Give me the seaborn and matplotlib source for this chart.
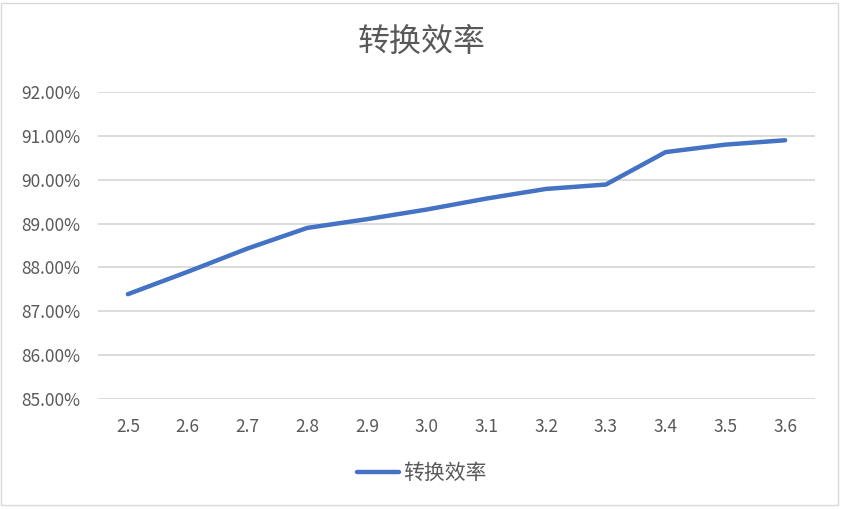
import numpy as np
import pandas as pd
import matplotlib
matplotlib.use("Agg")
import matplotlib.pyplot as plt
from matplotlib.ticker import PercentFormatter
from matplotlib.patches import Rectangle
import seaborn as sns

categories = ["2.5", "2.6", "2.7", "2.8", "2.9", "3.0", "3.1", "3.2", "3.3", "3.4", "3.5", "3.6"]
efficiency = [87.39, 87.90, 88.43, 88.90, 89.10, 89.32, 89.57, 89.79, 89.89, 90.63, 90.80, 90.90]
series_name = "转换效率"
title = "转换效率"

sns.set_theme(style="white")
plt.rcParams["font.family"] = ["Noto Sans CJK SC", "DejaVu Sans"]

W, H = 843, 509
fig = plt.figure(figsize=(W / 100, H / 100), dpi=100)
fig.patch.set_facecolor("white")

ax = fig.add_axes([98 / W, 1 - 399 / H, (815 - 98) / W, (399 - 92) / H])

df = pd.DataFrame({"pos": np.arange(len(categories)), "val": efficiency, "series": series_name})
sns.lineplot(data=df, x="pos", y="val", hue="series", palette=["#4472C4"],
             linewidth=3.2, ax=ax, legend=False, solid_capstyle="round")

ax.set_xlim(-0.5, len(categories) - 0.5)
ax.set_ylim(85, 92)
ax.set_yticks(np.arange(85, 92.5, 1))
ax.yaxis.set_major_formatter(PercentFormatter(xmax=100, decimals=2))
ax.set_xticks(np.arange(len(categories)))
ax.set_xticklabels(categories)
ax.set_xlabel("")
ax.set_ylabel("")

ax.grid(axis="y", color="#D9D9D9", linewidth=1.3)
ax.grid(axis="x", visible=False)
for s in ax.spines.values():
    s.set_visible(False)
ax.tick_params(axis="y", length=0, pad=13, labelsize=12.5, labelcolor="#595959")
ax.tick_params(axis="x", length=0, pad=14, labelsize=12.5, labelcolor="#595959")
ax.set_axisbelow(True)

fig.text(0.5, 1 - 42 / H, title, ha="center", va="center", fontsize=23,
         color="#595959", fontweight="light")

line = ax.get_lines()[0]
leg = fig.legend([line], [series_name], loc="center", bbox_to_anchor=(0.5, 1 - 473 / H),
                 frameon=False, fontsize=15, handlelength=2.0, handletextpad=0.2)
for t in leg.get_texts():
    t.set_color("#595959")

fig.add_artist(Rectangle((1 / W, 1 - 505 / H), 837 / W, 502 / H, transform=fig.transFigure,
                         fill=False, edgecolor="#D9D9D9", linewidth=1))

fig.savefig("out.png", dpi=100)
